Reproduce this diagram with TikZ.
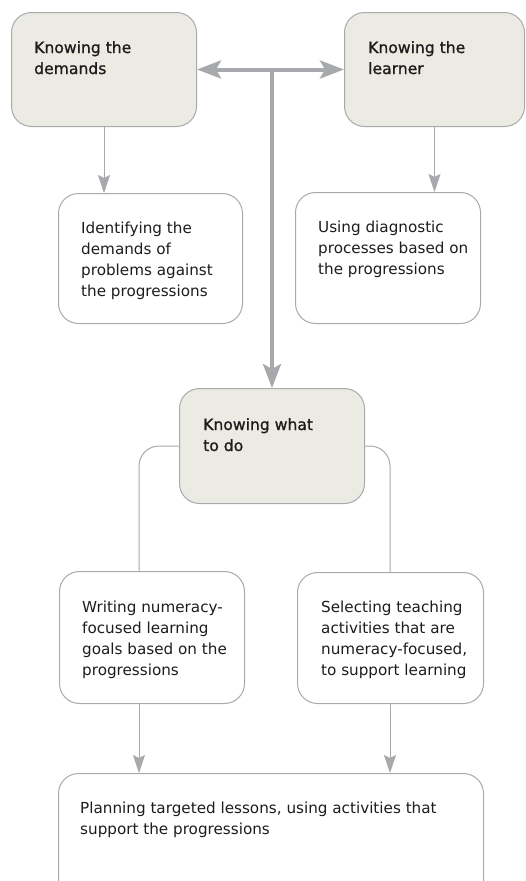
\documentclass[tikz,border=0pt]{standalone}
\usepackage{fontspec}
\setmainfont{DejaVu Sans}
\newfontfamily\headfont[FakeBold=1]{DejaVu Sans}
\usetikzlibrary{arrows.meta}
\definecolor{boxfill}{HTML}{EBEBE3}
\definecolor{linegray}{HTML}{A7A9AC}
\definecolor{txt}{HTML}{1E1C1D}
\begin{document}
\begin{tikzpicture}[x=1pt,y=-1pt,
  box/.style={draw=linegray, line width=1pt, rounded corners=20pt, fill=white, inner sep=0pt, anchor=north west},
  headbox/.style={box, fill=boxfill},
  lbl/.style={anchor=base west, inner sep=0pt, text=txt, font=\fontsize{15.2}{21}\selectfont},
  hlbl/.style={lbl, font=\fontsize{15.6}{21}\selectfont\headfont},
  thin/.style={draw=linegray, line width=1pt},
  thinarrow/.style={thin, -{Stealth[length=18pt,width=12pt,inset=3pt]}},
  bigarrow/.style={draw=linegray, line width=4pt}
]
\useasboundingbox (0,0) rectangle (526,881);
\clip (0,0) rectangle (526,881);

% boxes
\node[headbox, minimum width=185pt, minimum height=114pt] (A) at (11,12) {};
\node[headbox, minimum width=180pt, minimum height=114pt] (B) at (344,12) {};
\node[box, minimum width=184pt, minimum height=130pt] (D) at (58,193) {};
\node[box, minimum width=185pt, minimum height=131pt] (E) at (295,192) {};
\node[headbox, minimum width=185pt, minimum height=115pt] (C) at (179,388) {};
\node[box, minimum width=185pt, minimum height=132pt] (F) at (59,571) {};
\node[box, minimum width=186pt, minimum height=131pt] (G) at (297,572) {};
\node[box, minimum width=425pt, minimum height=140pt] (H) at (58,773) {};

% texts
\node[hlbl] (tA) at (34,53) {\begin{tabular}[t]{@{}l@{}}Knowing the\\demands\end{tabular}};
\node[hlbl] (tB) at (368,53) {\begin{tabular}[t]{@{}l@{}}Knowing the\\learner\end{tabular}};
\node[lbl] (tD) at (81,233) {\begin{tabular}[t]{@{}l@{}}Identifying the\\demands of\\problems against\\the progressions\end{tabular}};
\node[lbl] (tE) at (318,232) {\begin{tabular}[t]{@{}l@{}}Using diagnostic\\processes based on\\the progressions\end{tabular}};
\node[hlbl] (tC) at (203,430) {\begin{tabular}[t]{@{}l@{}}Knowing what\\to do\end{tabular}};
\node[lbl] (tF) at (82,612) {\begin{tabular}[t]{@{}l@{}}Writing numeracy-\\focused learning\\goals based on the\\progressions\end{tabular}};
\node[lbl] (tG) at (321,612) {\begin{tabular}[t]{@{}l@{}}Selecting teaching\\activities that are\\numeracy-focused,\\to support learning\end{tabular}};
\node[lbl] (tH) at (80,813) {\begin{tabular}[t]{@{}l@{}}Planning targeted lessons, using activities that\\support the progressions\end{tabular}};

% helper coordinates
\coordinate (lx) at (139,0);
\coordinate (rx) at (390,0);

% big arrows
\draw[bigarrow, {Stealth[length=24pt,width=18pt,inset=5pt]}-{Stealth[length=24pt,width=18pt,inset=5pt]}] (A.east) -- (B.west);
\draw[bigarrow, -{Stealth[length=24pt,width=18pt,inset=5pt]}] (C.north |- A.east) -- (C.north);

% thin arrows
\draw[thinarrow] (A.south) -- (A.south |- D.north);
\draw[thinarrow] (B.south) -- (B.south |- E.north);
\draw[thin, rounded corners=20pt] (C.west) -| (F.north -| lx);
\draw[thin, rounded corners=20pt] (C.east) -| (G.north -| rx);
\draw[thinarrow] (F.south -| lx) -- (H.north -| lx);
\draw[thinarrow] (G.south -| rx) -- (H.north -| rx);
\end{tikzpicture}
\end{document}
